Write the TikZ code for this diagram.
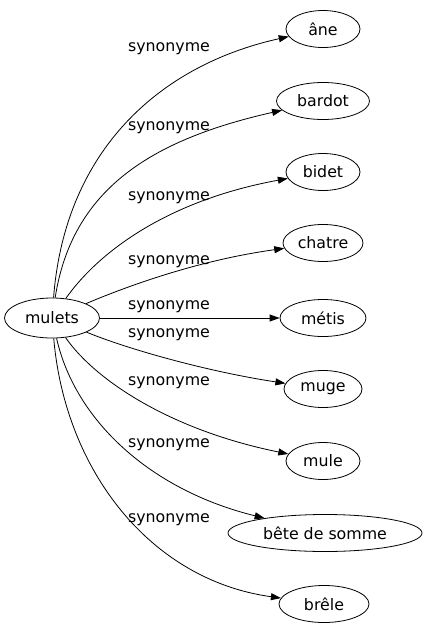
\documentclass[tikz,border=0pt]{standalone}
\usepackage{fontspec}
\setmainfont{DejaVu Sans}
\usetikzlibrary{shapes.geometric,arrows.meta}
\begin{document}
\begin{tikzpicture}[x=1pt,y=-1pt,
  every node/.style={font=\fontsize{15.8}{17}\selectfont},
  word/.style={draw,ellipse,line width=0.8pt,inner sep=0pt,minimum height=37pt},
  lbl/.style={inner sep=0pt},
  syn/.style={-{Triangle[length=10pt,width=7pt]},line width=0.8pt}]
\useasboundingbox (0,0) rectangle (426,635);
\node[word,minimum width=95pt,minimum height=40pt] (m) at (52,318) {mulets};
\node[word,minimum width=74pt] (a) at (323,29) {âne};
\node[word,minimum width=93pt] (b) at (323,101) {bardot};
\node[word,minimum width=74pt] (c) at (323,172) {bidet};
\node[word,minimum width=80pt] (d) at (323,243) {chatre};
\node[word,minimum width=86pt] (e) at (323,318) {métis};
\node[word,minimum width=78pt] (f) at (323,389) {muge};
\node[word,minimum width=74pt] (g) at (323,461) {mule};
\node[word,minimum width=194pt] (h) at (325,533) {bête de somme};
\node[word,minimum width=90pt] (i) at (324,604) {brêle};
\draw[syn] (m) .. controls (65,150) and (160,65) .. (a);
\draw[syn] (m) .. controls (72,190) and (150,140) .. (b);
\draw[syn] (m) .. controls (100,250) and (170,200) .. (c);
\draw[syn] (m) .. controls (130,285) and (200,260) .. (d);
\draw[syn] (m) -- (e);
\draw[syn] (m) .. controls (130,350) and (210,372) .. (f);
\draw[syn] (m) .. controls (95,380) and (170,430) .. (g);
\draw[syn] (m) .. controls (75,420) and (150,490) .. (h);
\draw[syn] (m) .. controls (65,470) and (150,580) .. (i);
\node[lbl] (la) at (169,49) {synonyme};
\node[lbl] (lb) at (169,128) {synonyme};
\node[lbl] (lc) at (169,198) {synonyme};
\node[lbl] (ld) at (169,262) {synonyme};
\node[lbl] (le) at (169,307) {synonyme};
\node[lbl] (lf) at (169,335) {synonyme};
\node[lbl] (lg) at (169,383) {synonyme};
\node[lbl] (lh) at (169,445) {synonyme};
\node[lbl] (li) at (169,520) {synonyme};
\end{tikzpicture}
\end{document}
